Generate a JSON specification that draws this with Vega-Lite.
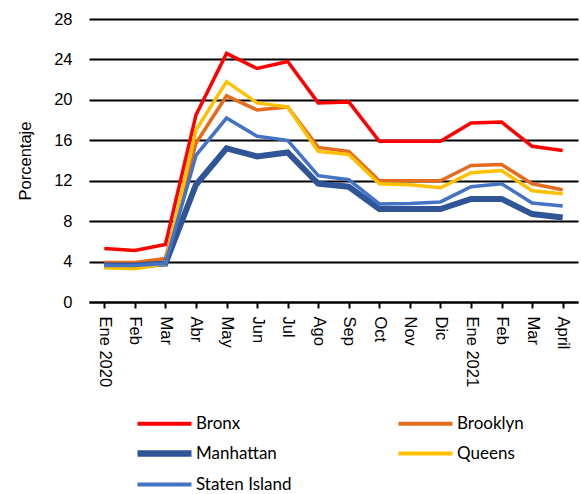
{
  "$schema": "https://vega.github.io/schema/vega-lite/v6.json",
  "width": 489,
  "height": 283,
  "autosize": {"type": "none"},
  "padding": {"left": 89, "top": 19, "right": 3, "bottom": 192},
  "background": "white",
  "data": {"values": [
    {"i":0,"s":"Bronx","v":5.3},{"i":1,"s":"Bronx","v":5.1},{"i":2,"s":"Bronx","v":5.7},{"i":3,"s":"Bronx","v":18.5},{"i":4,"s":"Bronx","v":24.6},{"i":5,"s":"Bronx","v":23.1},{"i":6,"s":"Bronx","v":23.8},{"i":7,"s":"Bronx","v":19.7},{"i":8,"s":"Bronx","v":19.8},{"i":9,"s":"Bronx","v":15.9},{"i":10,"s":"Bronx","v":15.9},{"i":11,"s":"Bronx","v":15.9},{"i":12,"s":"Bronx","v":17.7},{"i":13,"s":"Bronx","v":17.8},{"i":14,"s":"Bronx","v":15.4},{"i":15,"s":"Bronx","v":15.0},
    {"i":0,"s":"Brooklyn","v":3.9},{"i":1,"s":"Brooklyn","v":3.9},{"i":2,"s":"Brooklyn","v":4.3},{"i":3,"s":"Brooklyn","v":15.7},{"i":4,"s":"Brooklyn","v":20.4},{"i":5,"s":"Brooklyn","v":19.0},{"i":6,"s":"Brooklyn","v":19.3},{"i":7,"s":"Brooklyn","v":15.3},{"i":8,"s":"Brooklyn","v":14.9},{"i":9,"s":"Brooklyn","v":12.0},{"i":10,"s":"Brooklyn","v":12.0},{"i":11,"s":"Brooklyn","v":12.0},{"i":12,"s":"Brooklyn","v":13.5},{"i":13,"s":"Brooklyn","v":13.6},{"i":14,"s":"Brooklyn","v":11.7},{"i":15,"s":"Brooklyn","v":11.1},
    {"i":0,"s":"Manhattan","v":3.6},{"i":1,"s":"Manhattan","v":3.6},{"i":2,"s":"Manhattan","v":3.8},{"i":3,"s":"Manhattan","v":11.6},{"i":4,"s":"Manhattan","v":15.2},{"i":5,"s":"Manhattan","v":14.4},{"i":6,"s":"Manhattan","v":14.8},{"i":7,"s":"Manhattan","v":11.7},{"i":8,"s":"Manhattan","v":11.4},{"i":9,"s":"Manhattan","v":9.2},{"i":10,"s":"Manhattan","v":9.2},{"i":11,"s":"Manhattan","v":9.2},{"i":12,"s":"Manhattan","v":10.2},{"i":13,"s":"Manhattan","v":10.2},{"i":14,"s":"Manhattan","v":8.7},{"i":15,"s":"Manhattan","v":8.35},
    {"i":0,"s":"Queens","v":3.4},{"i":1,"s":"Queens","v":3.3},{"i":2,"s":"Queens","v":3.8},{"i":3,"s":"Queens","v":17.0},{"i":4,"s":"Queens","v":21.8},{"i":5,"s":"Queens","v":19.7},{"i":6,"s":"Queens","v":19.3},{"i":7,"s":"Queens","v":14.9},{"i":8,"s":"Queens","v":14.6},{"i":9,"s":"Queens","v":11.7},{"i":10,"s":"Queens","v":11.6},{"i":11,"s":"Queens","v":11.3},{"i":12,"s":"Queens","v":12.8},{"i":13,"s":"Queens","v":13.0},{"i":14,"s":"Queens","v":11.0},{"i":15,"s":"Queens","v":10.7},
    {"i":0,"s":"Staten Island","v":3.6},{"i":1,"s":"Staten Island","v":3.6},{"i":2,"s":"Staten Island","v":3.8},{"i":3,"s":"Staten Island","v":14.5},{"i":4,"s":"Staten Island","v":18.2},{"i":5,"s":"Staten Island","v":16.4},{"i":6,"s":"Staten Island","v":16.0},{"i":7,"s":"Staten Island","v":12.5},{"i":8,"s":"Staten Island","v":12.1},{"i":9,"s":"Staten Island","v":9.7},{"i":10,"s":"Staten Island","v":9.75},{"i":11,"s":"Staten Island","v":9.9},{"i":12,"s":"Staten Island","v":11.4},{"i":13,"s":"Staten Island","v":11.7},{"i":14,"s":"Staten Island","v":9.8},{"i":15,"s":"Staten Island","v":9.5}
  ]},
  "mark": {"type": "line", "strokeJoin": "miter", "strokeCap": "butt"},
  "encoding": {
    "x": {
      "field": "i", "type": "ordinal",
      "scale": {"type": "point", "padding": 0.5},
      "axis": {
        "title": null,
        "labelExpr": "['Ene 2020','Feb','Mar','Abr','May','Jun','Jul','Ago','Sep','Oct','Nov','Dic','Ene 2021','Feb','Mar','April'][datum.value]",
        "labelAngle": 90, "labelAlign": "left", "labelBaseline": "middle",
        "labelFont": "Liberation Sans", "labelFontSize": 16.5, "labelColor": "black",
        "labelPadding": 8,
        "domainColor": "black", "domainWidth": 2,
        "tickColor": "black", "tickWidth": 2, "tickSize": 6,
        "grid": false
      }
    },
    "y": {
      "field": "v", "type": "quantitative",
      "scale": {"domain": [0, 28], "nice": false},
      "axis": {
        "title": "Porcentaje", "titleFont": "Liberation Sans", "titleFontSize": 16.5, "titleFontWeight": "normal", "titleColor": "black", "titlePadding": 20,
        "values": [0,4,8,12,16,20,24,28],
        "labelFont": "Liberation Sans", "labelFontSize": 16.5, "labelColor": "black", "labelPadding": 17,
        "domain": false, "ticks": false,
        "grid": true, "gridColor": "black", "gridWidth": 2, "gridOpacity": 1
      }
    },
    "color": {
      "field": "s", "type": "nominal",
      "scale": {"domain": ["Bronx","Brooklyn","Manhattan","Queens","Staten Island"], "range": ["#FF0000","#E46C1C","#2F5597","#FFC000","#4472C4"]},
      "legend": {
        "title": null, "orient": "none", "legendX": 67, "legendY": 396, "direction": "horizontal", "columns": 2,
        "symbolType": "M-3,0H3", "symbolSize": 324, "symbolStrokeWidth": 6.5,
        "labelFont": "Lato", "labelFontSize": 17, "labelColor": "black", "labelOffset": 23,
        "columnPadding": 98, "rowPadding": 8, "padding": 0, "labelLimit": 200,
        "encode": {"symbols": {"update": {"strokeWidth": {"signal": "datum.value === 'Manhattan' ? 6.5 : 4"}}}}
      }
    },
    "strokeWidth": {
      "condition": {"test": "datum.s === 'Manhattan'", "value": 6},
      "value": 3.5
    }
  },
  "config": {"view": {"stroke": null}}
}
